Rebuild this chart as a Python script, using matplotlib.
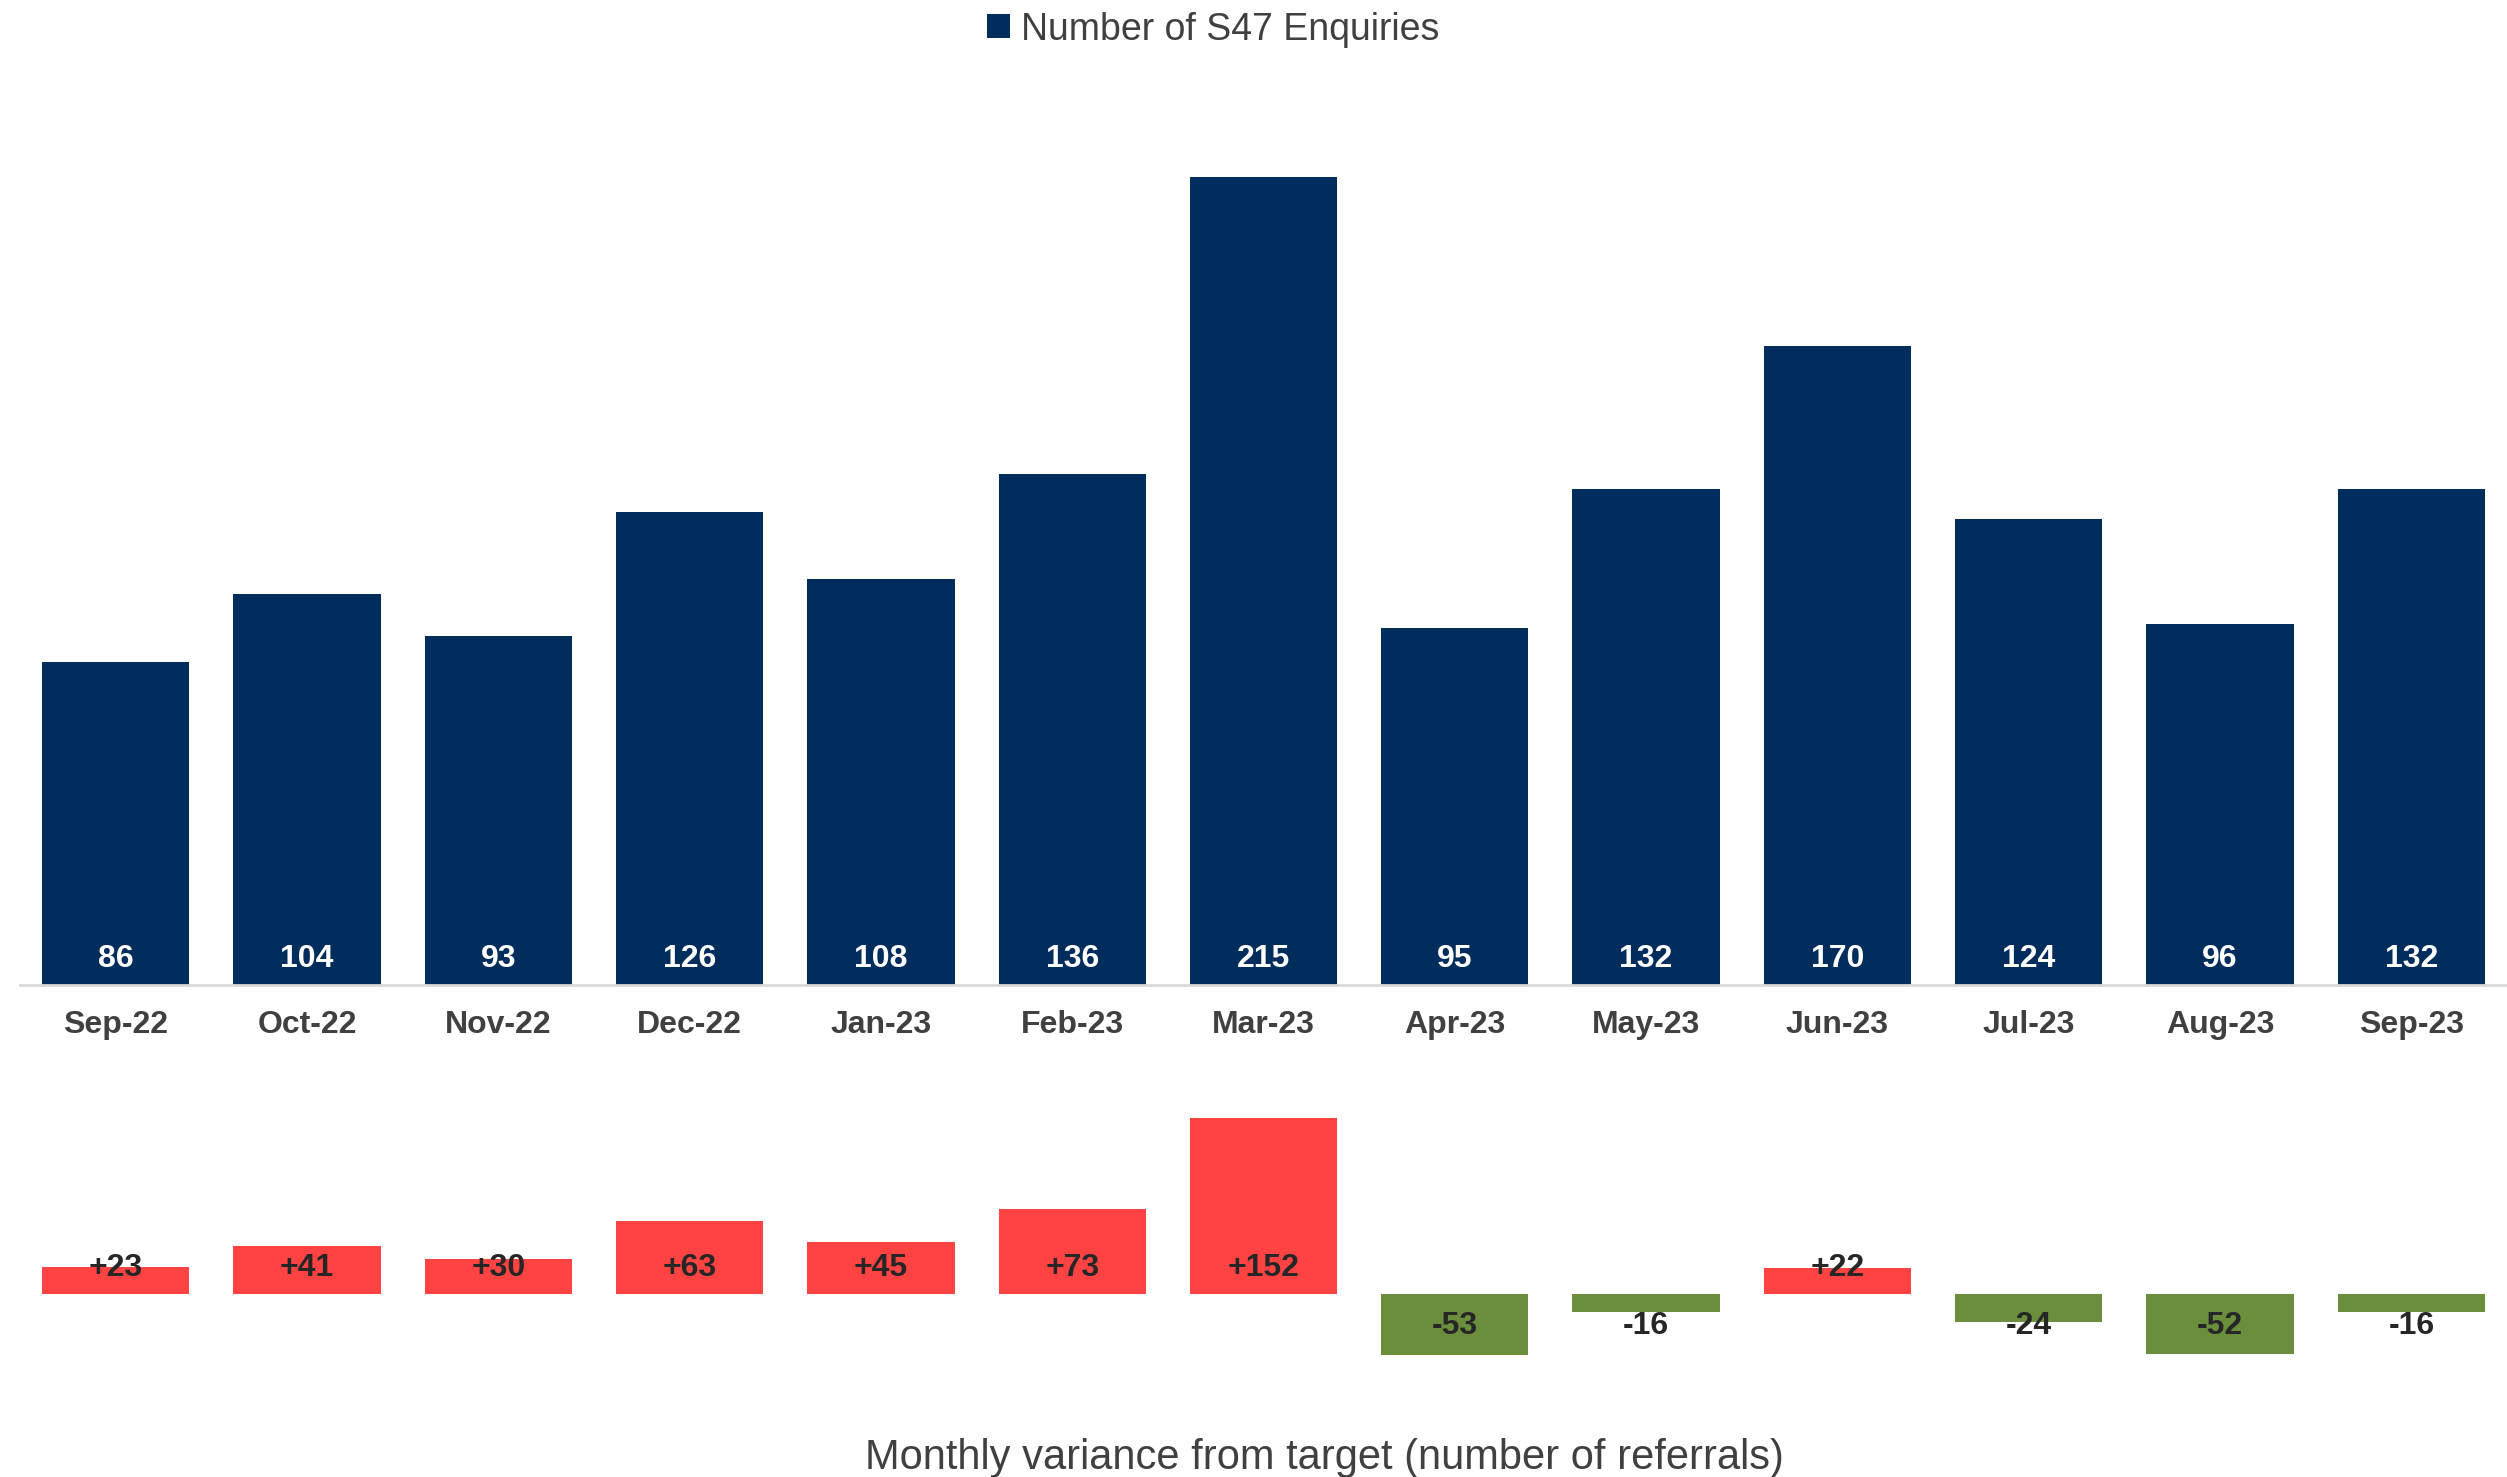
import numpy as np
import matplotlib.pyplot as plt

plt.rcParams['font.family'] = ['Liberation Sans', 'DejaVu Sans']

months = ['Sep-22', 'Oct-22', 'Nov-22', 'Dec-22', 'Jan-23', 'Feb-23', 'Mar-23',
          'Apr-23', 'May-23', 'Jun-23', 'Jul-23', 'Aug-23', 'Sep-23']
enquiries = [86, 104, 93, 126, 108, 136, 215, 95, 132, 170, 124, 96, 132]
variance = [23, 41, 30, 63, 45, 73, 152, -53, -16, 22, -24, -52, -16]

navy = '#002D5B'
red = '#FF4343'
green = '#6A8E3B'
grey_text = '#404040'

fig = plt.figure(figsize=(25.07, 14.77), dpi=100)
x = np.arange(len(months))

# main chart
ax = fig.add_axes([20/2507, 0.3331, 1 - 20/2507, 0.6358])
bars = ax.bar(x, enquiries, width=0.77, color=navy, label='Number of S47 Enquiries')
ax.set_xlim(-0.5, len(months) - 0.5)
ax.set_ylim(0, 250)
for i, v in enumerate(enquiries):
    ax.annotate(str(v), (i, 0), xytext=(0, 19), textcoords='offset points',
                ha='center', va='center', color='white', fontsize=23, fontweight='bold')
for s in ['top', 'right', 'left']:
    ax.spines[s].set_visible(False)
ax.spines['bottom'].set_color('#D9D9D9')
ax.spines['bottom'].set_linewidth(2)
ax.set_yticks([])
ax.set_xticks(x)
ax.set_xticklabels(months, fontsize=23, fontweight='bold', color=grey_text)
ax.tick_params(axis='x', length=0, pad=18)

fig.legend(handles=[bars], labels=['Number of S47 Enquiries'], loc='center',
           bbox_to_anchor=(0.484, 0.980), frameon=False, fontsize=27,
           labelcolor=grey_text, handlelength=0.6, handleheight=0.6, handletextpad=0.3)

# variance chart
ax2 = fig.add_axes([20/2507, 0.0691, 1 - 20/2507, 0.1882])
cols = [red if v > 0 else green for v in variance]
ax2.bar(x, variance, width=0.77, color=cols)
ax2.set_xlim(-0.5, len(months) - 0.5)
ax2.set_ylim(-70, 170)
for i, v in enumerate(variance):
    lbl = f'+{v}' if v > 0 else str(v)
    off = 18.5 if v > 0 else -23
    ax2.annotate(lbl, (i, 0), xytext=(0, off), textcoords='offset points',
                 ha='center', va='center', color='#262626', fontsize=23, fontweight='bold')
ax2.axis('off')

fig.text(1324/2507, 0.013, 'Monthly variance from target (number of referrals)',
         ha='center', va='center', fontsize=30, color=grey_text)

fig.savefig('out.png', dpi=100)
